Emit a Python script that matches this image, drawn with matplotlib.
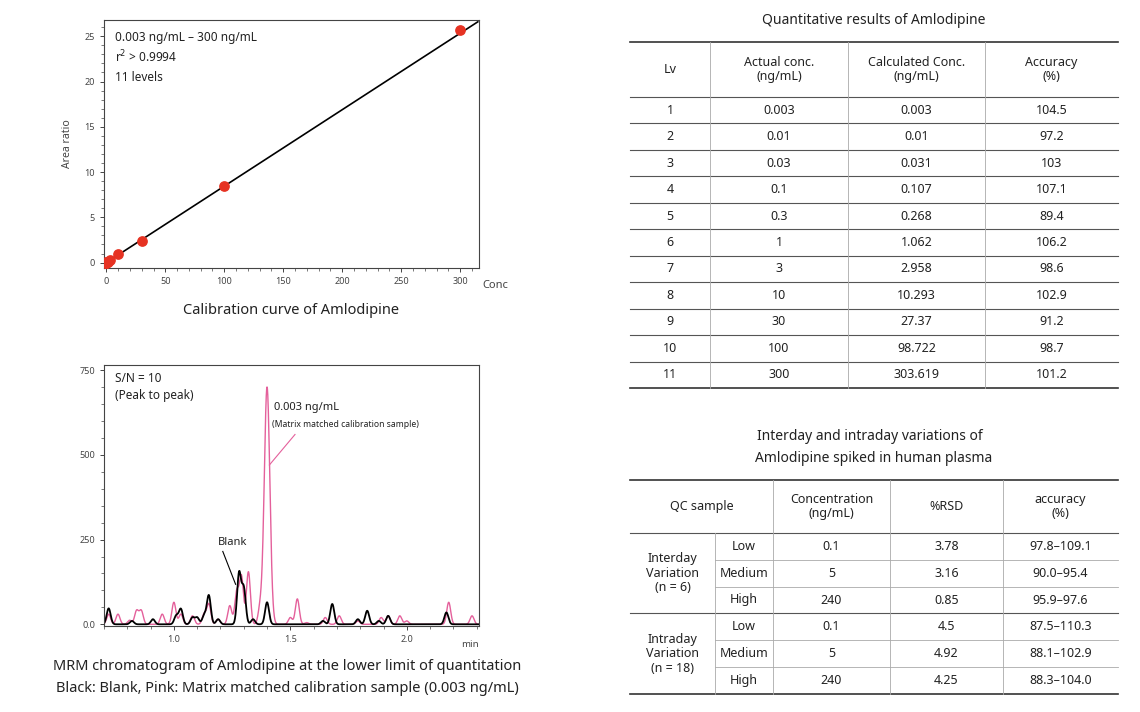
import numpy as np
import matplotlib
matplotlib.use("Agg")
import matplotlib.pyplot as plt
from matplotlib.ticker import MultipleLocator

plt.rcParams['font.family'] = ['Noto Sans', 'DejaVu Sans']

# calibration data
cal_conc = [0.003, 0.01, 0.03, 0.1, 0.3, 1, 3, 10, 30, 100, 300]
cal_ratio = [0.0, 0.001, 0.003, 0.009, 0.025, 0.09, 0.28, 0.95, 2.35, 8.45, 25.7]
fit_x = [0, 315]
fit_y = [0, 26.6]

# chromatogram peaks (time min, height)
blank_peaks = [(0.72, 47), (0.82, 10), (0.91, 15), (1.01, 25), (1.03, 45), (1.08, 20), (1.10, 20),
               (1.13, 25), (1.15, 85), (1.19, 15), (1.28, 150), (1.30, 105), (1.34, 15), (1.40, 65),
               (1.64, 10), (1.68, 60), (1.79, 15), (1.83, 40), (1.88, 10), (1.92, 25), (2.17, 35)]
sample_peaks = [(0.72, 30), (0.76, 30), (0.81, 12), (0.84, 40), (0.86, 40), (0.95, 30), (1.00, 65),
                (1.03, 30), (1.08, 25), (1.13, 30), (1.15, 60), (1.19, 15), (1.24, 55), (1.27, 95),
                (1.29, 140), (1.32, 155), (1.37, 45), (1.40, 700), (1.50, 20), (1.53, 75), (1.57, 5),
                (1.65, 20), (1.71, 25), (1.79, 10), (1.89, 20), (1.92, 25), (1.97, 25), (2.00, 10),
                (2.18, 65), (2.28, 25)]

tab1_head = ["Lv", "Actual conc.\n(ng/mL)", "Calculated Conc.\n(ng/mL)", "Accuracy\n(%)"]
tab1_lv = ["1", "2", "3", "4", "5", "6", "7", "8", "9", "10", "11"]
tab1_actual = ["0.003", "0.01", "0.03", "0.1", "0.3", "1", "3", "10", "30", "100", "300"]
tab1_calc = ["0.003", "0.01", "0.031", "0.107", "0.268", "1.062", "2.958", "10.293", "27.37", "98.722", "303.619"]
tab1_acc = ["104.5", "97.2", "103", "107.1", "89.4", "106.2", "98.6", "102.9", "91.2", "98.7", "101.2"]

tab2_head = ["QC sample", "Concentration\n(ng/mL)", "%RSD", "accuracy\n(%)"]
tab2_groups = ["Interday\nVariation\n(n = 6)", "Intraday\nVariation\n(n = 18)"]
tab2_level = ["Low", "Medium", "High", "Low", "Medium", "High"]
tab2_conc = ["0.1", "5", "240", "0.1", "5", "240"]
tab2_rsd = ["3.78", "3.16", "0.85", "4.5", "4.92", "4.25"]
tab2_acc = ["97.8\u2013109.1", "90.0\u201395.4", "95.9\u201397.6", "87.5\u2013110.3", "88.1\u2013102.9", "88.3\u2013104.0"]

W, H = 1140, 712
fig = plt.figure(figsize=(W / 100, H / 100), dpi=100)
txt = '#222222'

def ax_rect(l, t, r, b):
    return [l / W, 1 - b / H, (r - l) / W, (b - t) / H]

def style(ax):
    for s in ax.spines.values():
        s.set_color('#444444')
        s.set_linewidth(0.8)
    ax.tick_params(labelsize=6.5, colors='#444444', length=3, width=0.7)
    ax.tick_params(which='minor', length=2, width=0.5, colors='#444444')

# calibration curve
ax1 = fig.add_axes(ax_rect(104, 20, 479, 268))
ax1.plot(fit_x, fit_y, color='black', lw=1.2)
ax1.scatter(cal_conc, cal_ratio, s=45, color='#e63222', zorder=3)
ax1.set_xlim(-2, 316)
ax1.set_ylim(-0.6, 26.8)
ax1.xaxis.set_major_locator(MultipleLocator(50))
ax1.xaxis.set_minor_locator(MultipleLocator(10))
ax1.yaxis.set_major_locator(MultipleLocator(5))
ax1.yaxis.set_minor_locator(MultipleLocator(1))
style(ax1)
ax1.set_ylabel("Area ratio", fontsize=7.5, color='#444444', labelpad=8)
ax1.text(1.01, -0.07, "Conc", transform=ax1.transAxes, fontsize=8, color='#444444', va='center')
ax1.text(0.03, 0.93, "0.003 ng/mL \u2013 300 ng/mL", transform=ax1.transAxes, fontsize=8.5, color=txt, va='center')
ax1.text(0.03, 0.85, "r$^2$ > 0.9994", transform=ax1.transAxes, fontsize=8.5, color=txt, va='center')
ax1.text(0.03, 0.77, "11 levels", transform=ax1.transAxes, fontsize=8.5, color=txt, va='center')

# chromatogram
t = np.linspace(0.70, 2.31, 2000)
def trace(peaks, sig=0.0085):
    y = np.zeros_like(t)
    for c, h in peaks:
        s = 0.012 if h > 500 else sig
        y += h * np.exp(-0.5 * ((t - c) / s) ** 2)
    return y

ax2 = fig.add_axes(ax_rect(104, 365, 479, 626))
ax2.plot(t, trace(sample_peaks), color='#e4609b', lw=1.0)
ax2.plot(t, trace(blank_peaks), color='black', lw=1.3)
ax2.set_xlim(0.70, 2.31)
ax2.set_ylim(-5, 765)
ax2.xaxis.set_major_locator(MultipleLocator(0.5))
ax2.xaxis.set_minor_locator(MultipleLocator(0.1))
ax2.yaxis.set_major_locator(MultipleLocator(250))
ax2.yaxis.set_minor_locator(MultipleLocator(50))
ax2.yaxis.set_major_formatter(plt.FuncFormatter(lambda v, p: "0.0" if v == 0 else f"{int(v)}"))
style(ax2)
ax2.text(1.0, -0.07, "min", transform=ax2.transAxes, fontsize=7, color='#444444', va='center', ha='right')
ax2.text(0.03, 0.95, "S/N = 10", transform=ax2.transAxes, fontsize=8.5, color=txt, va='center')
ax2.text(0.03, 0.885, "(Peak to peak)", transform=ax2.transAxes, fontsize=8.5, color=txt, va='center')
ax2.text(1.43, 640, "0.003 ng/mL", fontsize=8, color=txt, va='center')
ax2.text(1.42, 590, "(Matrix matched calibration sample)", fontsize=6.2, color=txt, va='center')
ax2.plot([1.52, 1.41], [560, 470], color='#e4609b', lw=0.8)
ax2.text(1.19, 240, "Blank", fontsize=8, color=txt, va='center')
ax2.plot([1.21, 1.265], [215, 118], color='black', lw=0.8)

# overlay for tables and captions
ov = fig.add_axes([0, 0, 1, 1])
ov.set_xlim(0, W)
ov.set_ylim(H, 0)
ov.axis('off')

ov.text(291, 310, "Calibration curve of Amlodipine", fontsize=10.5, color=txt, ha='center', va='center')
ov.text(287, 666, "MRM chromatogram of Amlodipine at the lower limit of quantitation", fontsize=10.5, color=txt, ha='center', va='center')
ov.text(287, 688, "Black: Blank, Pink: Matrix matched calibration sample (0.003 ng/mL)", fontsize=10.5, color=txt, ha='center', va='center')

def hline(y, x0, x1, lw=0.8, c='#555555'):
    ov.plot([x0, x1], [y, y], color=c, lw=lw)

def vline(x, y0, y1, lw=0.6, c='#aaaaaa'):
    ov.plot([x, x], [y0, y1], color=c, lw=lw)

fs = 9
# table 1
ov.text(874, 20, "Quantitative results of Amlodipine", fontsize=10, color=txt, ha='center', va='center')
cx = [630, 710, 848, 985, 1118]
ry = [42, 97] + [97 + 26.45 * (i + 1) for i in range(11)]
hline(ry[0], cx[0], cx[-1], lw=1.2, c='#333333')
for y in ry[1:-1]:
    hline(y, cx[0], cx[-1])
hline(ry[-1], cx[0], cx[-1], lw=1.2, c='#333333')
for x in cx[1:-1]:
    vline(x, ry[0], ry[-1])
for j, h in enumerate(tab1_head):
    ov.text((cx[j] + cx[j + 1]) / 2, (ry[0] + ry[1]) / 2, h, fontsize=fs, color=txt,
            ha='center', va='center', linespacing=1.1)
for i in range(11):
    yc = (ry[i + 1] + ry[i + 2]) / 2
    for j, col in enumerate([tab1_lv, tab1_actual, tab1_calc, tab1_acc]):
        ov.text((cx[j] + cx[j + 1]) / 2, yc, col[i], fontsize=fs, color=txt, ha='center', va='center')

# table 2
ov.text(870, 436, "Interday and intraday variations of", fontsize=10, color=txt, ha='center', va='center')
ov.text(874, 458, "Amlodipine spiked in human plasma", fontsize=10, color=txt, ha='center', va='center')
cx2 = [630, 773, 890, 1003, 1118]
sub = 715
ry2 = [480, 533] + [533 + 26.8 * (i + 1) for i in range(6)]
hline(ry2[0], cx2[0], cx2[-1], lw=1.2, c='#333333')
hline(ry2[1], cx2[0], cx2[-1])
for k, y in enumerate(ry2[2:-1]):
    x0 = cx2[0] if k == 2 else sub
    hline(y, x0, cx2[-1], lw=0.8 if k == 2 else 0.6, c='#555555' if k == 2 else '#aaaaaa')
hline(ry2[-1], cx2[0], cx2[-1], lw=1.2, c='#333333')
for x in cx2[1:-1]:
    vline(x, ry2[0], ry2[-1])
vline(sub, ry2[1], ry2[-1])
for j, h in enumerate(tab2_head):
    ov.text((cx2[j] + cx2[j + 1]) / 2, (ry2[0] + ry2[1]) / 2, h, fontsize=fs, color=txt,
            ha='center', va='center', linespacing=1.1)
for g in range(2):
    ov.text((cx2[0] + sub) / 2, (ry2[1 + 3 * g] + ry2[4 + 3 * g]) / 2, tab2_groups[g], fontsize=fs,
            color=txt, ha='center', va='center', linespacing=1.15)
for i in range(6):
    yc = (ry2[i + 1] + ry2[i + 2]) / 2
    ov.text((sub + cx2[1]) / 2, yc, tab2_level[i], fontsize=fs, color=txt, ha='center', va='center')
    for j, col in enumerate([tab2_conc, tab2_rsd, tab2_acc]):
        ov.text((cx2[j + 1] + cx2[j + 2]) / 2, yc, col[i], fontsize=fs, color=txt, ha='center', va='center')

fig.savefig("out.png", dpi=100)
